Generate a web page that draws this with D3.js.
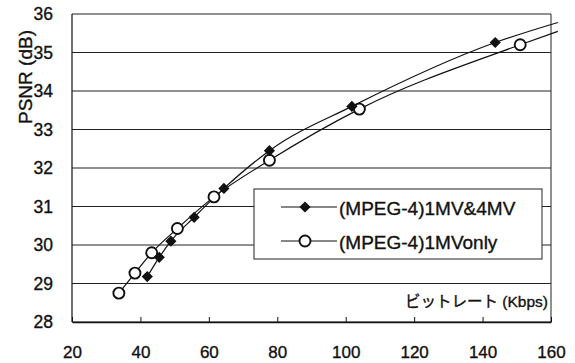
<!DOCTYPE html>
<html>
<head>
<meta charset="utf-8">
<script src="https://cdn.jsdelivr.net/npm/d3@7"></script>
<style>
  body { margin: 0; background: #fff; }
  text { font-family: "Liberation Sans", Arial, "Noto Sans CJK JP", sans-serif; fill: #111; stroke: #111; stroke-width: 0.35px; }
</style>
</head>
<body>
<div id="chart"></div>
<script>
// data
const seriesNames = ['(MPEG-4)1MV&4MV', '(MPEG-4)1MVonly'];

const bitrateMulti = [42.0, 45.5, 48.9, 55.7, 64.4, 77.7, 101.8, 143.7];
const psnrMulti    = [29.18, 29.68, 30.10, 30.72, 31.47, 32.45, 33.60, 35.26];

const bitrateOne = [33.7, 38.4, 43.3, 50.8, 61.5, 77.7, 104.0, 151.0];
const psnrOne    = [28.75, 29.27, 29.80, 30.43, 31.25, 32.20, 33.53, 35.20];

// trend line extends a bit past the last point
const trendEndX = 162;
const trendEndMulti = 35.78;
const trendEndOne = 35.55;

const xTicks = [20, 40, 60, 80, 100, 120, 140, 160];
const yTicks = [28, 29, 30, 31, 32, 33, 34, 35, 36];

const xTitle = 'ビットレート (Kbps)';
const yTitle = 'PSNR (dB)';

// chart setup
const width = 575, height = 363;
const margins = { top: 14, right: 24, bottom: 41, left: 72 };
const innerW = width - margins.left - margins.right;
const innerH = height - margins.top - margins.bottom;

const svg = d3.select('#chart').append('svg')
    .attr('width', width)
    .attr('height', height);

const g = svg.append('g')
    .attr('transform', `translate(${margins.left},${margins.top})`);

const xScale = d3.scaleLinear().domain([20, 160]).range([0, innerW]);
const yScale = d3.scaleLinear().domain([28, 36]).range([innerH, 0]);

// gridlines
g.selectAll('.grid')
    .data(yTicks)
    .enter().append('line')
    .attr('class', 'grid')
    .attr('x1', 0).attr('x2', innerW)
    .attr('y1', d => yScale(d)).attr('y2', d => yScale(d))
    .attr('stroke', '#222').attr('stroke-width', 1);

// frame left / right
g.append('line').attr('x1', 0).attr('x2', 0).attr('y1', 0).attr('y2', innerH)
    .attr('stroke', '#111').attr('stroke-width', 1.2);
g.append('line').attr('x1', innerW).attr('x2', innerW).attr('y1', 0).attr('y2', innerH)
    .attr('stroke', '#222').attr('stroke-width', 1);

// x axis: inward ticks
const xAxis = g.append('g')
    .attr('transform', `translate(0,${innerH})`)
    .call(d3.axisBottom(xScale).tickValues(xTicks).tickSizeInner(-5).tickSizeOuter(0).tickPadding(24));
xAxis.select('.domain').attr('stroke', '#111').attr('stroke-width', 1.3);
xAxis.selectAll('.tick line').attr('stroke', '#111');
xAxis.selectAll('text').attr('font-size', 17).attr('fill', '#111')
    .attr('font-family', '"Liberation Sans", Arial, sans-serif');

// y axis labels
const yAxis = g.append('g')
    .call(d3.axisLeft(yScale).tickValues(yTicks).tickSize(0).tickPadding(19));
yAxis.select('.domain').remove();
yAxis.selectAll('text').attr('font-size', 17.5).attr('fill', '#111')
    .attr('font-family', '"Liberation Sans", Arial, sans-serif');

// axis titles
svg.append('text')
    .attr('transform', `translate(32,${77}) rotate(-90)`)
    .attr('text-anchor', 'middle')
    .attr('font-size', 19)
    .text(yTitle);

g.append('text')
    .attr('x', innerW - 3)
    .attr('y', innerH - 15)
    .attr('text-anchor', 'end')
    .attr('font-size', 15.5)
    .text(xTitle);

// trend lines
const lineGenerator = d3.line()
    .x(d => xScale(d[0]))
    .y(d => yScale(d[1]))
    .curve(d3.curveMonotoneX);

const multiPts = bitrateMulti.map((x, i) => [x, psnrMulti[i]]).concat([[trendEndX, trendEndMulti]]);
const onePts = bitrateOne.map((x, i) => [x, psnrOne[i]]).concat([[trendEndX, trendEndOne]]);

g.append('path').datum(onePts)
    .attr('fill', 'none').attr('stroke', '#111').attr('stroke-width', 1.2)
    .attr('d', lineGenerator);
g.append('path').datum(multiPts)
    .attr('fill', 'none').attr('stroke', '#111').attr('stroke-width', 1.2)
    .attr('d', lineGenerator);

// markers
const diamond = d3.symbol().type(d3.symbolDiamond2).size(80);

g.selectAll('.pt-one')
    .data(bitrateOne)
    .enter().append('circle')
    .attr('class', 'pt-one')
    .attr('cx', d => xScale(d))
    .attr('cy', (d, i) => yScale(psnrOne[i]))
    .attr('r', 5.5)
    .attr('fill', '#fff').attr('stroke', '#111').attr('stroke-width', 1.9);

g.selectAll('.pt-multi')
    .data(bitrateMulti)
    .enter().append('path')
    .attr('class', 'pt-multi')
    .attr('transform', (d, i) => `translate(${xScale(d)},${yScale(psnrMulti[i])})`)
    .attr('d', diamond)
    .attr('fill', '#111');

// legend
const legend = svg.append('g').attr('transform', 'translate(254,189)');
legend.append('rect')
    .attr('x', 0).attr('y', 0).attr('width', 288).attr('height', 70)
    .attr('fill', '#fff').attr('stroke', '#222').attr('stroke-width', 1);

for (let i = 0; i < 2; i++) {
    const row = legend.append('g').attr('transform', `translate(0,${18 + i * 34})`);
    row.append('line').attr('x1', 27).attr('x2', 83).attr('y1', 0).attr('y2', 0)
        .attr('stroke', '#111').attr('stroke-width', 1.2);
    if (i === 0) {
        row.append('path').attr('transform', 'translate(51,0)').attr('d', diamond).attr('fill', '#111');
    } else {
        row.append('circle').attr('cx', 51).attr('cy', 0).attr('r', 5.5)
            .attr('fill', '#fff').attr('stroke', '#111').attr('stroke-width', 1.9);
    }
    row.append('text')
        .attr('x', 85).attr('y', 1)
        .attr('dominant-baseline', 'central')
        .attr('font-size', 19)
        .text(seriesNames[i]);
}
</script>
</body>
</html>
